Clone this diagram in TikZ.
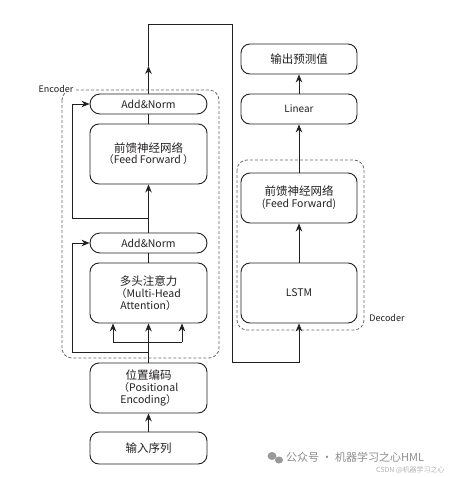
\documentclass[tikz,border=0pt]{standalone}
\usepackage{fontspec}
\setmainfont{Noto Sans CJK SC}
\usetikzlibrary{arrows.meta}
\definecolor{ink}{HTML}{231F20}
\definecolor{dash}{HTML}{6A6A6A}
\tikzset{
  box/.style={draw=ink, line width=0.9pt, rounded corners=9pt, minimum width=117pt, inner sep=0pt, align=center, text=ink},
  pill/.style={box, rounded corners=10pt, minimum height=20pt},
  arr/.style={draw=ink, line width=0.8pt, -{Stealth[length=8pt,width=6.5pt]}},
  ln/.style={draw=ink, line width=0.8pt},
  grp/.style={draw=dash, line width=0.8pt, dash pattern=on 3pt off 2pt, rounded corners=10pt},
  zh/.style={font=\fontsize{11.5}{14}\selectfont},
  en/.style={font=\fontsize{10.5}{15.5}\selectfont},
  lbl/.style={font=\fontsize{9}{11}\selectfont, text=ink, inner sep=0pt},
}
\begin{document}
\begin{tikzpicture}[x=1pt,y=-1pt]
\useasboundingbox (0,0) rectangle (474,477);
% group frames
\draw[grp] (62,90) rectangle (219,358);
\draw[grp] (237,160) rectangle (364,330);
\node[lbl, fill=white, inner xsep=1pt] (enclbl) at (56,89) {Encoder};
\node[lbl] (declbl) at (387,318) {Decoder};

% encoder boxes
\node[pill, en, minimum width=117pt] (an2) at (148.5,104) {Add\&Norm};
\node[box, minimum height=60pt] (ff1) at (148.5,154) {{\fontsize{11.5}{15.5}\selectfont 前馈神经网络}\\[-1pt]{\fontsize{10.5}{15.5}\selectfont （Feed Forward ）}};
\node[pill, en] (an1) at (148.5,243) {Add\&Norm};
\node[box, minimum height=60pt] (mha) at (148.5,293) {{\fontsize{11.5}{15.5}\selectfont 多头注意力}\\{\fontsize{10.5}{15.5}\selectfont （Multi-Head}\\{\fontsize{10.5}{15.5}\selectfont Attention）}};
\node[box, minimum height=50pt] (pe) at (148.5,388) {{\fontsize{11.5}{15}\selectfont 位置编码}\\{\fontsize{10.5}{15}\selectfont （Positional}\\{\fontsize{10.5}{15}\selectfont Encoding）}};
\node[box, minimum height=32pt, zh] (inp) at (148.5,448) {输入序列};

% decoder boxes
\node[box, minimum width=116pt, minimum height=30pt, zh] (out) at (299,59) {输出预测值};
\node[box, minimum width=116pt, minimum height=30pt, font=\fontsize{10}{12}\selectfont] (lin) at (299,109) {Linear};
\node[box, minimum width=116pt, minimum height=50pt] (ff2) at (299,198) {{\fontsize{11.5}{15.5}\selectfont 前馈神经网络}\\{\fontsize{10.5}{15.5}\selectfont (Feed Forward)}};
\node[box, minimum width=116pt, minimum height=60pt, font=\fontsize{10.5}{12}\selectfont] (lstm) at (299,293) {LSTM};

% coordinates
\coordinate (bm) at (148.5,342);
\coordinate (bl) at (113,342);
\coordinate (br) at (182,342);
\coordinate (r1) at (148.5,352);
\coordinate (r1l) at (72,352);
\coordinate (r2) at (148.5,218);
\coordinate (r2l) at (72,218);
\coordinate (c1) at (148.5,66);
\coordinate (c2) at (148.5,24);
\coordinate (c3) at (232.7,24);
\coordinate (c4) at (232.7,362);

% encoder connectors
\draw[arr] (inp.north) -- (pe.south);
\draw[arr] (pe.north) -- (mha.south);
\draw[ln] (bl) -- (br);
\draw[arr] (bl) -- (bl |- mha.south);
\draw[arr] (br) -- (br |- mha.south);
\draw[arr] (r1) -- (r1l) |- (an1.west);
\draw[ln] (mha.north) -- (an1.south);
\draw[arr] (an1.north) -- (ff1.south);
\draw[arr] (r2) -- (r2l) |- (an2.west);
\draw[ln] (ff1.north) -- (an2.south);
\draw[arr] (an2.north) -- (c1);
\draw[arr] (c1) -- (c2) -- (c3) -- (c4) -| (lstm.south);

% decoder connectors
\draw[arr] (lstm.north) -- (ff2.south);
\draw[arr] (ff2.north) -- (lin.south);
\draw[arr] (lin.north) -- (out.south);

% watermark
\node[font=\fontsize{11}{13}\selectfont, text=black!45, anchor=west, inner sep=0pt] (wm) at (286,457) {公众号 · 机器学习之心HML};
\node[font=\fontsize{7}{8}\selectfont, text=black!30, anchor=west, inner sep=0pt] (wm2) at (376,470) {CSDN @机器学习之心};
\fill[black!40] (272,456) ellipse (4.5pt and 4pt);
\fill[black!40] (279,460) ellipse (4pt and 3.5pt);
\end{tikzpicture}
\end{document}
